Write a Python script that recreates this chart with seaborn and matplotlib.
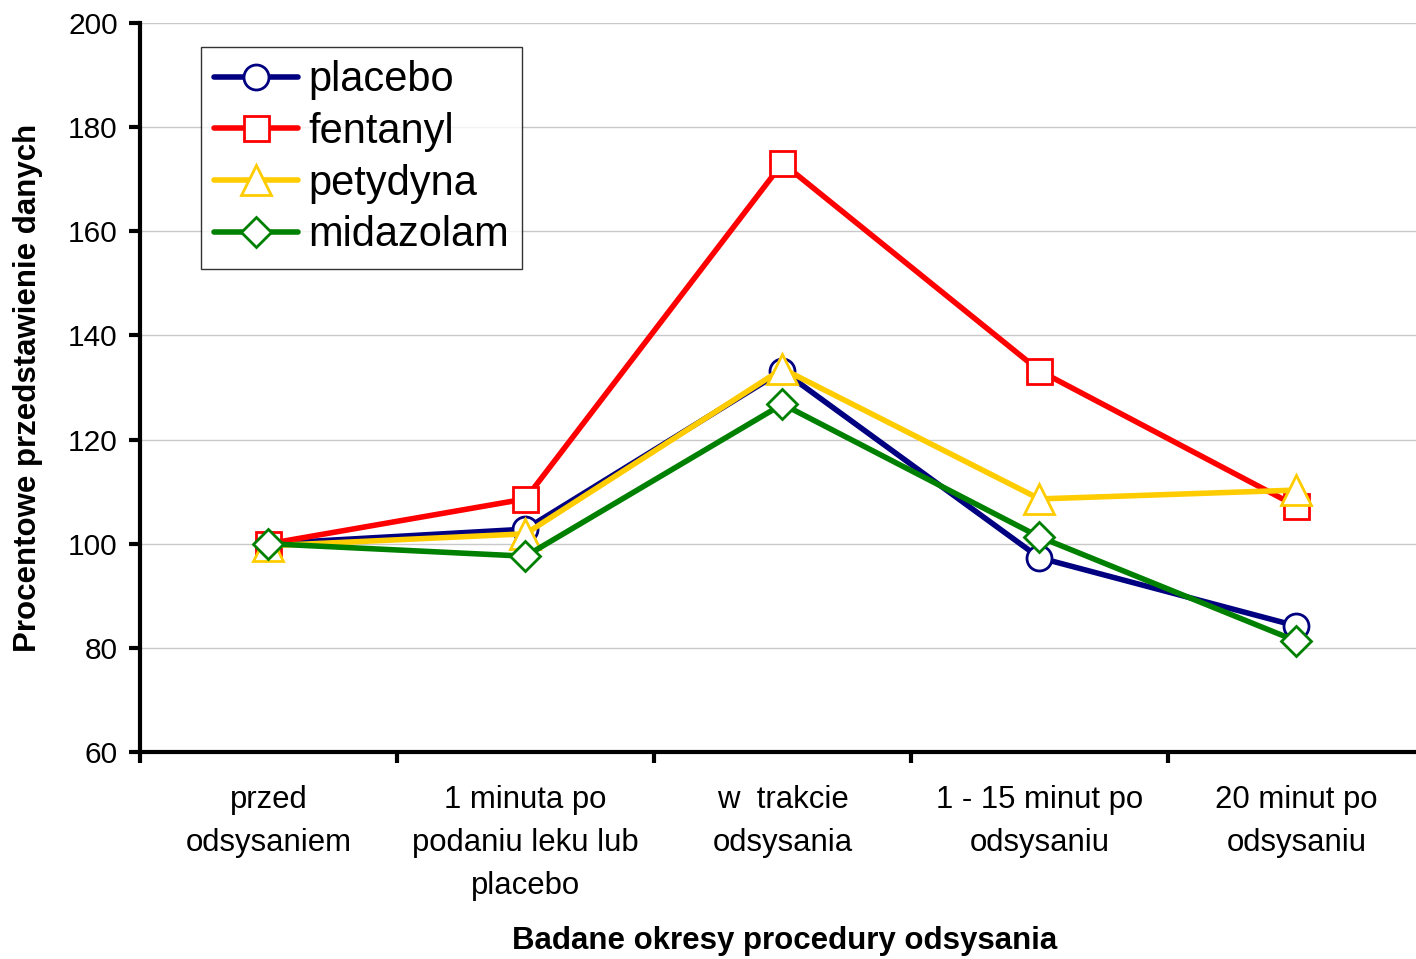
import numpy as np
import matplotlib.pyplot as plt
import seaborn as sns

categories = [
    "przed\nodsysaniem",
    "1 minuta po\npodaniu leku lub\nplacebo",
    "w  trakcie\nodsysania",
    "1 - 15 minut po\nodsysaniu",
    "20 minut po\nodsysaniu",
]
placebo = [100.0, 102.8, 133.2, 97.3, 84.2]
fentanyl = [100.0, 108.6, 173.1, 133.2, 107.2]
petydyna = [99.6, 101.9, 133.6, 108.6, 110.3]
midazolam = [100.0, 97.6, 126.8, 101.3, 81.3]

series_names = ["placebo", "fentanyl", "petydyna", "midazolam"]
series_values = [placebo, fentanyl, petydyna, midazolam]
colors = ["#000080", "#FF0000", "#FFCC00", "#008000"]
markers = ["o", "s", "^", "D"]
marker_sizes = [18, 18, 21, 15]

sns.set_style("white")
plt.rcParams["font.family"] = ["Liberation Sans", "DejaVu Sans"]
plt.rcParams["text.color"] = "black"
plt.rcParams["axes.labelcolor"] = "black"
plt.rcParams["xtick.color"] = "black"
plt.rcParams["ytick.color"] = "black"

fig = plt.figure(figsize=(14.16, 9.59), dpi=100)
ax = fig.add_axes([140 / 1416, 207 / 959, 1276 / 1416, 729 / 959])

x = np.arange(len(categories))
for name, values, color, marker, ms in zip(series_names, series_values, colors, markers, marker_sizes):
    sns.lineplot(x=x, y=values, ax=ax, color=color, marker=marker, markersize=ms,
                 markerfacecolor="white", markeredgecolor=color, markeredgewidth=2,
                 linewidth=4, label=name, sort=False)

ax.set_ylim(60, 200)
ax.set_yticks(np.arange(60, 201, 20))
ax.set_xlim(-0.5, 4.465)
ax.set_xticks(np.arange(-0.5, 4.0, 1.0))
ax.set_xticklabels([])
ax.set_xticks(x, minor=True)
ax.set_xticklabels(categories, minor=True, fontsize=22.4, linespacing=1.55)
ax.tick_params(axis="x", which="minor", bottom=False, length=0, pad=24)
ax.tick_params(axis="x", which="major", bottom=True, length=8, width=3, direction="out")
ax.tick_params(axis="y", left=True, length=8, width=3, direction="out", labelsize=21.5, pad=8)

ax.yaxis.grid(True, color="#c8c8c8", linewidth=1)
ax.set_axisbelow(True)

for side in ["top", "right"]:
    ax.spines[side].set_visible(False)
for side in ["left", "bottom"]:
    ax.spines[side].set_color("black")
    ax.spines[side].set_linewidth(3)

ax.set_xlabel("Badane okresy procedury odsysania", fontsize=22.5, fontweight="bold")
ax.xaxis.set_label_coords(0.505, -0.238)
ax.set_ylabel("Procentowe przedstawienie danych", fontsize=22.5, fontweight="bold", labelpad=18)

leg = ax.legend(loc="upper left", bbox_to_anchor=(61 / 1276, 705 / 729), borderaxespad=0,
                fontsize=30, frameon=True, fancybox=False, handlelength=2.0,
                handletextpad=0.25, labelspacing=0.28, borderpad=0.32)
leg.get_frame().set_edgecolor("black")
leg.get_frame().set_linewidth(1)

fig.savefig("out.png", dpi=100)
plt.close(fig)
